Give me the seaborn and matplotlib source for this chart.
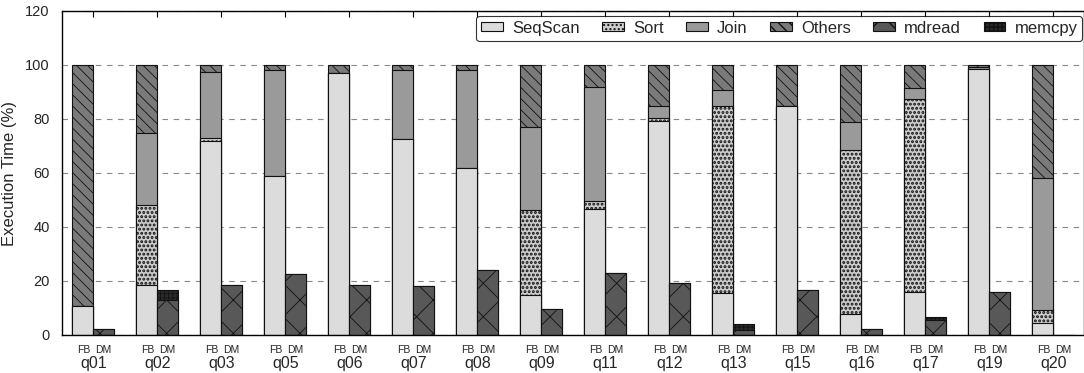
import numpy as np
import pandas as pd
import matplotlib
matplotlib.use("Agg")
import matplotlib.pyplot as plt
import seaborn as sns
from matplotlib.patches import Patch

queries = ["q01", "q02", "q03", "q05", "q06", "q07", "q08", "q09",
           "q11", "q12", "q13", "q15", "q16", "q17", "q19", "q20"]
# FB breakdown (%)
seqscan = [10.9, 18.5, 71.9, 58.8, 97.0, 72.6, 62.0, 14.8, 46.7, 79.3, 15.6, 84.7, 7.7, 15.8, 98.5, 4.4]
sort_ = [0.0, 29.6, 1.2, 0.0, 0.0, 0.0, 0.0, 31.4, 2.9, 1.2, 69.3, 0.0, 60.7, 71.6, 0.0, 5.0]
join = [0.0, 26.7, 24.2, 39.2, 0.0, 25.4, 36.0, 30.8, 42.3, 4.2, 5.7, 0.0, 10.4, 4.2, 0.8, 48.6]
others = [89.1, 25.2, 2.7, 2.0, 3.0, 2.0, 2.0, 23.0, 8.1, 15.3, 9.4, 15.3, 21.2, 8.4, 0.7, 42.0]
# DM breakdown (%)
mdread = [2.2, 12.8, 18.5, 22.7, 18.5, 18.0, 24.2, 9.6, 23.0, 19.3, 2.0, 16.8, 2.2, 5.4, 15.8, 0.0]
memcpy = [0.0, 4.0, 0.0, 0.0, 0.0, 0.0, 0.0, 0.0, 0.0, 0.0, 2.2, 0.0, 0.0, 1.3, 0.0, 0.0]

systems = ["FB", "DM"]
yticks = [0, 20, 40, 60, 80, 100, 120]

styles = {
    "SeqScan": dict(color="#dcdcdc", hatch="", hlw=0.5),
    "Sort": dict(color="#cccccc", hatch="....", hlw=1.4),
    "Join": dict(color="#9a9a9a", hatch="", hlw=0.5),
    "Others": dict(color="#7a7a7a", hatch="\\\\\\", hlw=0.6),
    "mdread": dict(color="#585858", hatch="x", hlw=0.6),
    "memcpy": dict(color="#2a2a2a", hatch="++++", hlw=0.5),
}

sns.set_theme(style="white")
plt.rcParams["font.family"] = ["Liberation Sans", "DejaVu Sans"]
plt.rcParams["hatch.color"] = "black"

fig = plt.figure(figsize=(10.84, 3.73), dpi=100)
ax = fig.add_axes([62 / 1084, 1 - 335 / 373, 1 - 62 / 1084, 324 / 373])

fb_layers = [("SeqScan", seqscan), ("Sort", sort_), ("Join", join), ("Others", others)]
dm_layers = [("mdread", mdread), ("memcpy", memcpy)]


def draw_stack(layers, sysname):
    arrs = [np.array(v, dtype=float) for _, v in layers]
    cums = np.cumsum(arrs, axis=0)
    # draw from the top layer down so lower layers cover upper ones
    for i in range(len(layers) - 1, -1, -1):
        name = layers[i][0]
        df = pd.DataFrame({"query": queries, "sys": sysname, "val": cums[i]})
        st = styles[name]
        n_before = len(ax.patches)
        with plt.rc_context({"hatch.linewidth": st["hlw"]}):
            sns.barplot(data=df, x="query", y="val", hue="sys", hue_order=systems,
                        order=queries, dodge=True, width=0.66,
                        palette={"FB": st["color"], "DM": st["color"]},
                        hatch=st["hatch"], edgecolor="#111111", linewidth=0.8,
                        errorbar=None, legend=False, ax=ax, saturation=1)
        for p in ax.patches[n_before:]:
            if hasattr(p, "set_hatch_linewidth"):
                p.set_hatch_linewidth(st["hlw"])


draw_stack(fb_layers, "FB")
draw_stack(dm_layers, "DM")

ax.set_xlim(-0.49, 15.48)
ax.set_ylim(0, 120)
ax.set_yticks(yticks)
ax.set_yticklabels([str(t) for t in yticks], fontsize=10.5)
ax.set_ylabel("Execution Time (%)", fontsize=12, labelpad=6)
ax.set_xlabel("")

ax.set_axisbelow(True)
ax.yaxis.grid(True, linestyle=(0, (5, 5)), color="#888888", linewidth=0.8)
ax.xaxis.grid(False)

ax.set_xticks(range(len(queries)))
ax.set_xticklabels(queries, fontsize=11.5)
minor_pos = []
minor_lab = []
for i in range(len(queries)):
    minor_pos += [i - 0.15, i + 0.15]
    minor_lab += ["FB", "DM"]
ax.set_xticks(minor_pos, minor=True)
ax.set_xticklabels(minor_lab, minor=True, fontsize=7.5)
ax.tick_params(axis="x", which="major", bottom=False, top=True, direction="in",
               length=4, width=0.8, color="black", pad=15)
ax.tick_params(axis="x", which="minor", bottom=False, top=False, pad=3.5)
ax.tick_params(axis="y", which="major", left=False, pad=3)

for s in ax.spines.values():
    s.set_color("black")
    s.set_linewidth(1.0)

handles = []
for n in ["SeqScan", "Sort", "Join", "Others", "mdread", "memcpy"]:
    st = styles[n]
    with plt.rc_context({"hatch.linewidth": st["hlw"]}):
        h = Patch(facecolor=st["color"], hatch=st["hatch"],
                  edgecolor="#111111", linewidth=0.8, label=n)
    if hasattr(h, "set_hatch_linewidth"):
        h.set_hatch_linewidth(st["hlw"])
    handles.append(h)

leg = ax.legend(handles=handles, loc="upper right", bbox_to_anchor=(0.9985, 0.985),
                ncol=6, fontsize=12, frameon=True, fancybox=True,
                handlelength=1.3, handleheight=0.45, handletextpad=0.55,
                columnspacing=1.35, borderpad=0.3, borderaxespad=0)
leg.get_frame().set_edgecolor("black")
leg.get_frame().set_linewidth(0.8)

fig.savefig("out.png", dpi=100)
